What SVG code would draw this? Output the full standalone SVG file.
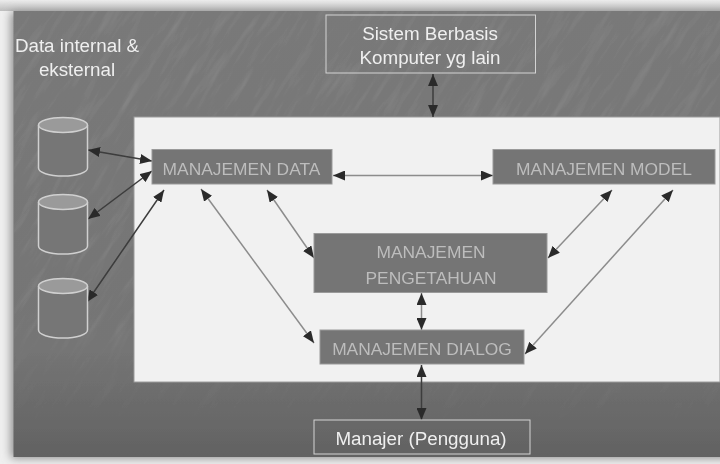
<svg xmlns="http://www.w3.org/2000/svg" width="720" height="464" viewBox="0 0 720 464">
<defs>
<linearGradient id="bg" x1="0" y1="0" x2="0" y2="1">
<stop offset="0" stop-color="#797979"/><stop offset="0.75" stop-color="#757575"/><stop offset="1" stop-color="#626262"/>
</linearGradient>
<linearGradient id="top" x1="0" y1="0" x2="0" y2="1">
<stop offset="0" stop-color="#ececec"/><stop offset="1" stop-color="#bdbdbd"/>
</linearGradient>
<linearGradient id="fade" x1="0" y1="0" x2="0" y2="1">
<stop offset="0" stop-color="#fff"/><stop offset="0.7" stop-color="#fff"/><stop offset="1" stop-color="#000"/>
</linearGradient>
<mask id="grainMask" maskUnits="userSpaceOnUse" x="13.500" y="11" width="707" height="446"><rect x="13.500" y="11" width="707" height="420" fill="url(#fade)"/></mask>
<filter id="soft" x="-2%" y="-2%" width="104%" height="104%"><feGaussianBlur stdDeviation="0.5"/></filter>
<filter id="shadow" x="-5%" y="-5%" width="110%" height="110%"><feGaussianBlur stdDeviation="5"/></filter>
<filter id="grain" x="0" y="0" width="100%" height="100%">
<feTurbulence type="fractalNoise" baseFrequency="0.018 0.13" numOctaves="4" seed="7"/>
<feColorMatrix type="matrix" values="0 0 0 0 1  0 0 0 0 1  0 0 0 0 1  1.5 0 0 0 -0.72"/>
</filter>
<marker id="a" viewBox="0 0 12 10" refX="12" refY="5" markerWidth="12" markerHeight="10" markerUnits="userSpaceOnUse" orient="auto-start-reverse"><path d="M0 0L12 5L0 10Z" fill="#2c2c2c"/></marker>
<style>
.box{fill:#747474;stroke:#9a9a9a;stroke-width:1}
.out{fill:none;stroke:#d4d4d4;stroke-width:1}
.cyl{fill:#767676;stroke:#d0d0d0;stroke-width:1.5}
.cap{fill:#9a9a9a;stroke:#d0d0d0;stroke-width:1.5}
.lbl{font-family:"Liberation Sans",Arial,sans-serif;font-size:17.4px;fill:#bdbdbd;text-anchor:middle}
.wht{font-family:"Liberation Sans",Arial,sans-serif;font-size:18.8px;fill:#efefef;text-anchor:middle}
.c{fill:none;stroke-width:1.5;marker-start:url(#a);marker-end:url(#a)}
.lt{stroke:#8c8c8c}.dk{stroke:#3c3c3c}
</style>
</defs>
<rect width="720" height="464" fill="#efefef"/>
<rect x="0" y="0" width="720" height="11" fill="url(#top)"/>
<rect x="11" y="12" width="720" height="446" fill="#8a8a8a" filter="url(#shadow)"/>
<g filter="url(#soft)">
<rect x="13.500" y="11" width="706.500" height="446" fill="url(#bg)"/>
<g mask="url(#grainMask)"><rect x="-200" y="-300" width="1100" height="1100" transform="rotate(-58 360 230)" filter="url(#grain)" opacity="0.14"/></g>
<rect x="134" y="117" width="586" height="265" fill="#f1f1f1" stroke="#9c9c9c" stroke-width="1"/>
<g id="connectors">
<line class="c dk" x1="88" y1="150" x2="152" y2="161"/>
<line class="c dk" x1="88" y1="219" x2="152" y2="171"/>
<line class="c dk" x1="87" y1="302" x2="164" y2="190"/>
<line class="c lt" x1="333" y1="175.500" x2="493" y2="175.500"/>
<line class="c lt" x1="201" y1="189" x2="314" y2="343"/>
<line class="c lt" x1="267" y1="190" x2="314" y2="258"/>
<line class="c lt" x1="612" y1="190" x2="548" y2="258"/>
<line class="c lt" x1="673" y1="190" x2="525" y2="354"/>
<line class="c lt" x1="421.500" y1="293" x2="421.500" y2="330"/>
<line class="c dk" x1="421.500" y1="365" x2="421.500" y2="420"/>
<line class="c dk" x1="433" y1="74" x2="433" y2="117"/>
</g>
<g id="cyl1"><path class="cyl" d="M38.500 125V168C38.500 172.500 49 176 63 176S87.500 172.500 87.500 168V125"/><ellipse class="cap" cx="63" cy="125" rx="24.500" ry="7.500"/></g>
<g id="cyl2"><path class="cyl" d="M38.500 202V246C38.500 250.500 49 254 63 254S87.500 250.500 87.500 246V202"/><ellipse class="cap" cx="63" cy="202" rx="24.500" ry="7.500"/></g>
<g id="cyl3"><path class="cyl" d="M38.500 286V330C38.500 334.500 49 338 63 338S87.500 334.500 87.500 330V286"/><ellipse class="cap" cx="63" cy="286" rx="24.500" ry="7.500"/></g>
<g id="data-label"><text class="wht" x="77" y="52">Data internal &amp;</text><text class="wht" x="77" y="76">eksternal</text></g>
<g id="sistem"><rect class="out" x="326" y="15" width="209.500" height="58"/><text class="wht" x="430" y="40">Sistem Berbasis</text><text class="wht" x="430" y="64">Komputer yg lain</text></g>
<g id="m-data"><rect class="box" x="152" y="149.500" width="180" height="34.500"/><text class="lbl" x="241.500" y="175">MANAJEMEN DATA</text></g>
<g id="m-model"><rect class="box" x="493" y="149.500" width="222" height="34.500"/><text class="lbl" x="604" y="175">MANAJEMEN MODEL</text></g>
<g id="m-peng"><rect class="box" x="314" y="233.500" width="233" height="59"/><text class="lbl" x="431" y="258">MANAJEMEN</text><text class="lbl" x="431" y="284">PENGETAHUAN</text></g>
<g id="m-dialog"><rect class="box" x="320" y="330" width="204" height="34"/><text class="lbl" x="422" y="355">MANAJEMEN DIALOG</text></g>
<g id="manajer"><rect class="out" x="314" y="420" width="216" height="34"/><text class="wht" x="421" y="445">Manajer (Pengguna)</text></g>
</g>
</svg>
